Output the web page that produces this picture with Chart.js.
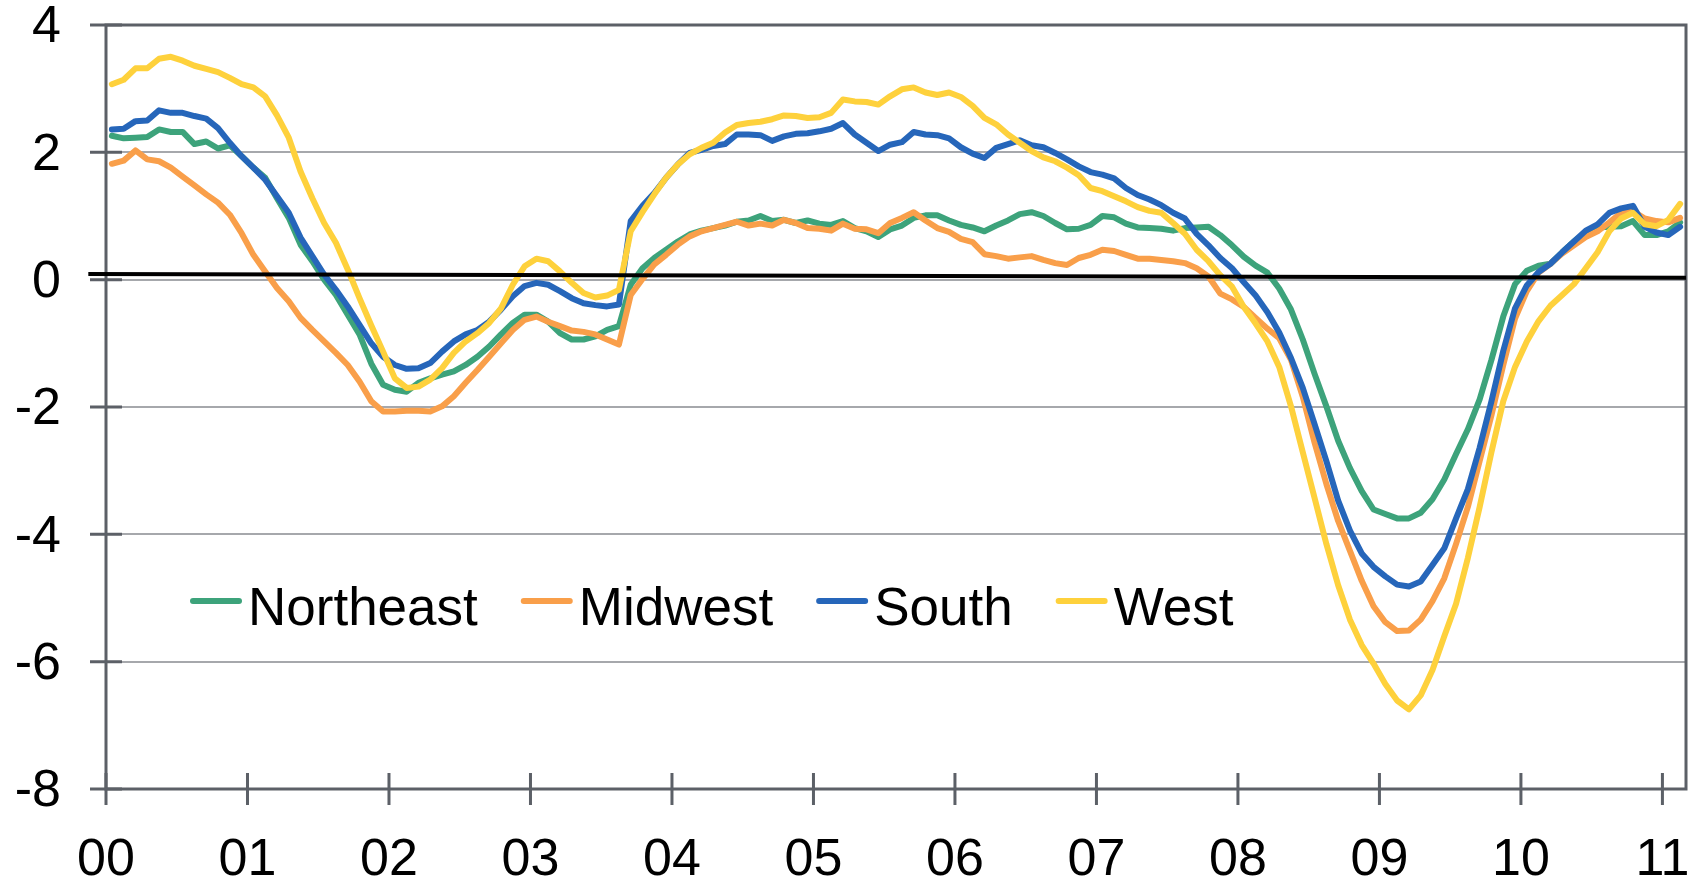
<!DOCTYPE html>
<html>
<head>
<meta charset="utf-8">
<script src="https://cdn.jsdelivr.net/npm/chart.js@4.4.1/dist/chart.umd.min.js"></script>
<style>
  html, body { margin: 0; padding: 0; background: #fff; }
  #wrap { width: 1699px; height: 881px; }
</style>
</head>
<body>
<div id="wrap"><canvas id="regions-chart" width="1699" height="881"></canvas></div>
<script>
// monthly values, Jan 2000 .. Feb 2011
const northeast = [
  2.26, 2.22, 2.23, 2.24, 2.36, 2.32, 2.32, 2.13, 2.17, 2.06, 2.11, 1.94,
  1.76, 1.60, 1.28, 0.97, 0.55, 0.29, 0.00, -0.24, -0.55, -0.86, -1.32, -1.65,
  -1.73, -1.76, -1.62, -1.55, -1.49, -1.44, -1.34, -1.21, -1.05, -0.86, -0.68, -0.55,
  -0.55, -0.66, -0.84, -0.94, -0.94, -0.89, -0.79, -0.73, -0.08, 0.18, 0.34, 0.47,
  0.60, 0.71, 0.77, 0.81, 0.85, 0.91, 0.93, 1.00, 0.92, 0.94, 0.89, 0.93,
  0.88, 0.86, 0.92, 0.81, 0.76, 0.67, 0.79, 0.85, 0.97, 1.01, 1.01, 0.93,
  0.86, 0.82, 0.76, 0.85, 0.93, 1.03, 1.06, 1.00, 0.89, 0.79, 0.80, 0.86,
  1.00, 0.98, 0.88, 0.82, 0.81, 0.80, 0.77, 0.81, 0.82, 0.83, 0.70, 0.54,
  0.36, 0.22, 0.11, -0.14, -0.47, -0.94, -1.48, -1.99, -2.53, -2.96, -3.32, -3.61,
  -3.68, -3.75, -3.75, -3.66, -3.45, -3.14, -2.74, -2.35, -1.88, -1.26, -0.58, -0.07,
  0.14, 0.22, 0.25, 0.43, 0.60, 0.74, 0.82, 0.83, 0.84, 0.92, 0.70, 0.70,
  0.76, 0.90
];
const midwest = [
  1.82, 1.87, 2.03, 1.89, 1.86, 1.76, 1.62, 1.48, 1.34, 1.21, 1.02, 0.73,
  0.39, 0.13, -0.13, -0.34, -0.60, -0.79, -0.97, -1.15, -1.34, -1.60, -1.91, -2.07,
  -2.07, -2.06, -2.06, -2.07, -1.99, -1.83, -1.62, -1.42, -1.21, -1.00, -0.79, -0.63,
  -0.58, -0.66, -0.73, -0.80, -0.82, -0.86, -0.94, -1.02, -0.24, 0.01, 0.24, 0.39,
  0.55, 0.68, 0.76, 0.81, 0.86, 0.91, 0.85, 0.88, 0.85, 0.94, 0.89, 0.81,
  0.80, 0.77, 0.88, 0.80, 0.79, 0.73, 0.89, 0.97, 1.06, 0.93, 0.81, 0.75,
  0.64, 0.59, 0.40, 0.37, 0.33, 0.35, 0.37, 0.31, 0.26, 0.23, 0.34, 0.39,
  0.47, 0.45, 0.39, 0.33, 0.33, 0.31, 0.29, 0.26, 0.18, 0.05, -0.22, -0.31,
  -0.43, -0.60, -0.77, -0.92, -1.26, -1.84, -2.56, -3.21, -3.79, -4.26, -4.73, -5.13,
  -5.38, -5.52, -5.51, -5.34, -5.05, -4.69, -4.15, -3.57, -2.85, -2.13, -1.34, -0.61,
  -0.18, 0.11, 0.25, 0.41, 0.54, 0.67, 0.76, 0.90, 1.05, 1.08, 0.96, 0.92,
  0.90, 0.97
];
const south = [
  2.36, 2.37, 2.49, 2.50, 2.66, 2.62, 2.62, 2.57, 2.53, 2.38, 2.15, 1.94,
  1.76, 1.57, 1.31, 1.05, 0.66, 0.37, 0.08, -0.16, -0.42, -0.71, -1.00, -1.21,
  -1.34, -1.40, -1.39, -1.31, -1.13, -0.97, -0.86, -0.79, -0.66, -0.47, -0.26, -0.10,
  -0.05, -0.08, -0.18, -0.29, -0.37, -0.40, -0.42, -0.39, 0.92, 1.16, 1.36, 1.60,
  1.81, 1.99, 2.04, 2.10, 2.13, 2.28, 2.28, 2.27, 2.18, 2.25, 2.29, 2.30,
  2.33, 2.37, 2.46, 2.28, 2.15, 2.02, 2.12, 2.16, 2.32, 2.28, 2.27, 2.22,
  2.08, 1.98, 1.91, 2.07, 2.13, 2.19, 2.11, 2.08, 1.99, 1.89, 1.78, 1.69,
  1.65, 1.59, 1.44, 1.33, 1.26, 1.17, 1.05, 0.96, 0.72, 0.54, 0.34, 0.18,
  -0.04, -0.25, -0.51, -0.83, -1.23, -1.70, -2.27, -2.85, -3.47, -3.94, -4.30, -4.51,
  -4.66, -4.79, -4.82, -4.74, -4.48, -4.22, -3.75, -3.29, -2.64, -1.91, -1.12, -0.45,
  -0.09, 0.12, 0.25, 0.43, 0.60, 0.77, 0.87, 1.05, 1.12, 1.16, 0.83, 0.74,
  0.70, 0.83
];
const west = [
  3.07, 3.14, 3.32, 3.32, 3.47, 3.50, 3.44, 3.36, 3.31, 3.26, 3.17, 3.07,
  3.02, 2.88, 2.58, 2.23, 1.70, 1.28, 0.89, 0.58, 0.16, -0.29, -0.72, -1.13,
  -1.55, -1.70, -1.68, -1.57, -1.39, -1.15, -0.97, -0.84, -0.68, -0.45, -0.08, 0.21,
  0.33, 0.29, 0.13, -0.05, -0.21, -0.28, -0.25, -0.16, 0.76, 1.06, 1.34, 1.60,
  1.81, 1.97, 2.07, 2.15, 2.31, 2.43, 2.46, 2.48, 2.52, 2.58, 2.57, 2.54,
  2.55, 2.62, 2.83, 2.80, 2.79, 2.75, 2.88, 2.99, 3.02, 2.94, 2.90, 2.94,
  2.87, 2.73, 2.54, 2.44, 2.28, 2.15, 2.02, 1.92, 1.86, 1.76, 1.64, 1.44,
  1.39, 1.31, 1.23, 1.14, 1.08, 1.05, 0.89, 0.72, 0.47, 0.29, 0.07, -0.11,
  -0.43, -0.69, -0.97, -1.37, -1.99, -2.71, -3.43, -4.15, -4.80, -5.34, -5.74, -6.03,
  -6.35, -6.61, -6.75, -6.53, -6.13, -5.60, -5.09, -4.37, -3.57, -2.71, -1.91, -1.37,
  -0.97, -0.65, -0.41, -0.24, -0.07, 0.18, 0.43, 0.76, 0.96, 1.05, 0.87, 0.84,
  0.94, 1.19
];
const seriesNames = ['Northeast', 'Midwest', 'South', 'West'];
const seriesColors = ['#3da37b', '#f99f4a', '#2666ba', '#fed13c'];
const yearLabels = ['00', '01', '02', '03', '04', '05', '06', '07', '08', '09', '10', '11'];
// the hand drawn zero line (slightly tilted in the original)
const zeroLineX = [-1.5, 134];
const zeroLineY = [0.09, 0.03];

const FONT = '"Liberation Sans", Arial, Helvetica, sans-serif';
const AXIS = '#5c6067';
const GRID = '#a6a8ac';

// points sit in the middle of their month
const toPoints = vals => vals.map((v, i) => ({ x: i + 0.5, y: v }));

const frame = {
  id: 'frame',
  beforeDatasetsDraw(chart) {
    const { ctx, chartArea: a, scales } = chart;
    ctx.save();
    ctx.strokeStyle = AXIS;
    ctx.lineWidth = 3;
    ctx.strokeRect(a.left, a.top, a.right - a.left, a.bottom - a.top);
    ctx.beginPath();
    scales.y.ticks.forEach(t => {
      const y = scales.y.getPixelForValue(t.value);
      ctx.moveTo(a.left - 16, y);
      ctx.lineTo(a.left + 16, y);
    });
    scales.x.ticks.forEach(t => {
      const x = scales.x.getPixelForValue(t.value);
      ctx.moveTo(x, a.bottom - 16);
      ctx.lineTo(x, a.bottom + 16);
    });
    ctx.stroke();
    ctx.restore();
  }
};

const inlineLegend = {
  id: 'inlineLegend',
  afterDatasetsDraw(chart) {
    const ctx = chart.ctx;
    ctx.save();
    ctx.font = '53px ' + FONT;
    ctx.textBaseline = 'alphabetic';
    let x = 190;
    chart.data.datasets.slice(0, 4).forEach(ds => {
      ctx.strokeStyle = ds.borderColor;
      ctx.lineWidth = 6;
      ctx.lineCap = 'round';
      ctx.beginPath();
      ctx.moveTo(x + 3, 601);
      ctx.lineTo(x + 49, 601);
      ctx.stroke();
      x += 58;
      ctx.fillStyle = '#000';
      ctx.fillText(ds.label, x, 625);
      x += ctx.measureText(ds.label).width + 43;
    });
    ctx.restore();
  }
};

const seriesData = [northeast, midwest, south, west];
const datasets = seriesData.map((vals, k) => ({
  label: seriesNames[k],
  data: toPoints(vals),
  borderColor: seriesColors[k],
  borderWidth: 6,
  pointRadius: 0,
  tension: 0,
  borderCapStyle: 'round',
  borderJoinStyle: 'round',
  order: 4 - k
}));
datasets.push({
  label: 'zero',
  data: zeroLineX.map((x, i) => ({ x: x, y: zeroLineY[i] })),
  borderColor: '#000',
  borderWidth: 4,
  pointRadius: 0,
  clip: 30,
  order: 0
});

new Chart(document.getElementById('regions-chart'), {
  type: 'line',
  data: { datasets: datasets },
  options: {
    responsive: false,
    animation: false,
    devicePixelRatio: 1,
    layout: { padding: { top: 25, right: 13, left: 0, bottom: 0 } },
    plugins: { legend: { display: false }, tooltip: { enabled: false } },
    scales: {
      x: {
        type: 'linear',
        min: 0,
        max: 134,
        grid: { display: false },
        border: { display: false },
        afterBuildTicks: s => { s.ticks = yearLabels.map((_, k) => ({ value: k * 12 })); },
        ticks: {
          callback: v => yearLabels[Math.round(v / 12)],
          font: { family: FONT, size: 52 },
          color: '#000',
          padding: 32,
          maxRotation: 0,
          autoSkip: false
        },
        afterFit: s => { s.height = 92; s.paddingLeft = 0; s.paddingRight = 0; }
      },
      y: {
        min: -8,
        max: 4,
        grid: { color: GRID, lineWidth: 2, drawTicks: false },
        border: { display: false },
        ticks: {
          stepSize: 2,
          font: { family: FONT, size: 52 },
          color: '#000',
          padding: 45,
          labelOffset: 3
        },
        afterFit: s => { s.width = 106; s.paddingTop = 0; s.paddingBottom = 0; }
      }
    }
  },
  plugins: [frame, inlineLegend]
});
</script>
</body>
</html>
